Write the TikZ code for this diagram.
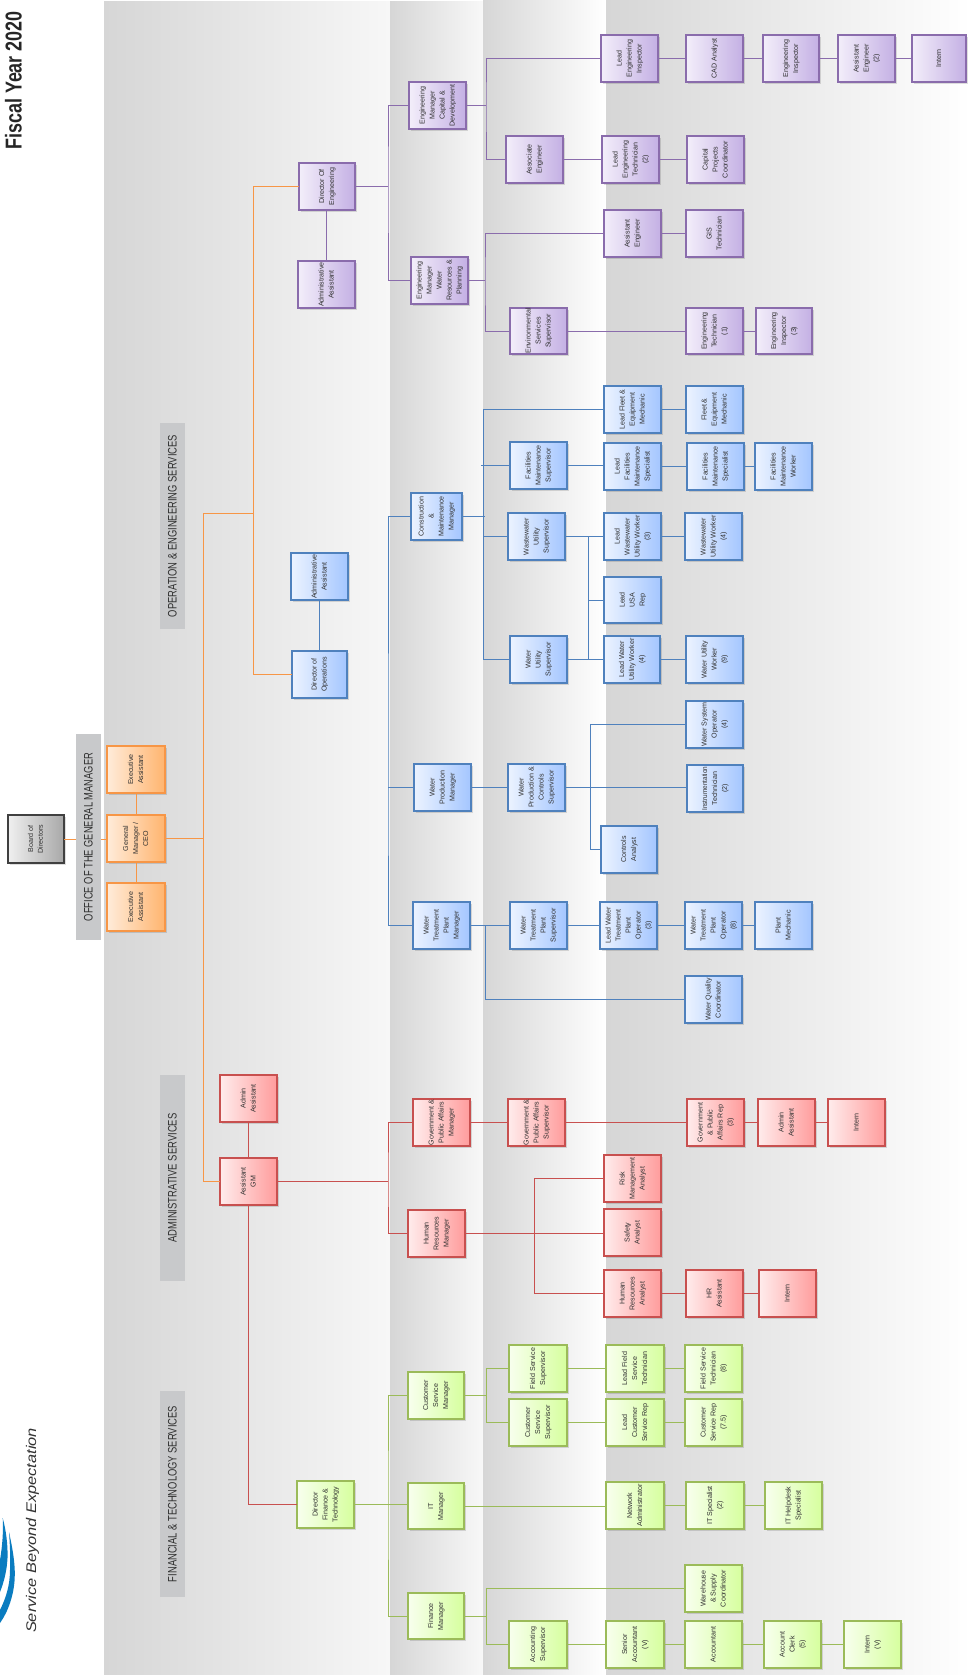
\documentclass[tikz,border=0pt]{standalone}
\usepackage{fontspec}
\setmainfont{Liberation Sans}
\usetikzlibrary{shadows,calc}
\definecolor{txt}{HTML}{303030}
\definecolor{pl}{HTML}{8A6CAC}
\definecolor{bl}{HTML}{4F81BD}
\definecolor{rd}{HTML}{C8504F}
\definecolor{gr}{HTML}{9BBB59}
\definecolor{og}{HTML}{F79646}
\definecolor{tagc}{HTML}{C8C9CB}
\definecolor{logoc}{HTML}{0A7CC0}
\tikzset{
 orgbox/.style={rectangle,inner sep=0pt,outer sep=0pt,line width=1.1pt,text=txt,
   font=\fontsize{7.1}{10}\selectfont,
   general shadow={shadow xshift=2.2pt,shadow yshift=-2.2pt,fill=black,opacity=.13},
   general shadow={shadow xshift=1.3pt,shadow yshift=-1.3pt,fill=black,opacity=.28}},
 pur/.style={draw=pl,left color={rgb,255:red,243;green,238;blue,250},right color={rgb,255:red,196;green,176;blue,228}},
 blu/.style={draw=bl,left color={rgb,255:red,236;green,243;blue,255},right color={rgb,255:red,164;green,198;blue,255}},
 red/.style={draw=rd,left color={rgb,255:red,255;green,236;blue,236},right color={rgb,255:red,255;green,156;blue,156}},
 grn/.style={draw=gr,left color={rgb,255:red,248;green,255;blue,238},right color={rgb,255:red,214;green,255;blue,158}},
 org/.style={draw=og,left color={rgb,255:red,255;green,236;blue,218},right color={rgb,255:red,255;green,180;blue,110}},
 gry/.style={draw=black!75,line width=1.2pt,left color={rgb,255:red,240;green,240;blue,240},right color={rgb,255:red,168;green,168;blue,168}},
 cpl/.style={draw=pl,line width=.9pt},
 cbl/.style={draw=bl,line width=.9pt},
 crd/.style={draw=rd,line width=.9pt},
 cgr/.style={draw=gr,line width=1pt},
 cog/.style={draw=og,line width=.9pt},
 grouptag/.style={fill=tagc,inner sep=0pt,text=txt},
}
\newcommand\orgnode[7]{%
 \pgfmathsetmacro\orgw{#5-#3}\pgfmathsetmacro\orgh{#6-#4}%
 \node[orgbox,#2,minimum width=\orgw pt,minimum height=\orgh pt] (#1) at ({(#3+#5)/2},{(#4+#6)/2})
   {\rotatebox{90}{\begin{tabular}{@{}c@{}}#7\end{tabular}}};}
\newcommand\lnk[3]{\draw[#1] (#2.east) -- (#2.east -| #3.west);}
\newcommand\grouplabel[5]{%
 \node[grouptag,minimum width=25pt,minimum height=206pt] (#1) at (#2,#3)
   {\rotatebox{90}{\resizebox{#4pt}{8.6pt}{#5}}};}
\begin{document}
\begin{tikzpicture}[x=1pt,y=-1pt]
\useasboundingbox (0,0) rectangle (971,1675);
% bands
\path[left color={rgb,255:red,214;green,214;blue,214},middle color={rgb,255:red,226;green,226;blue,226},right color={rgb,255:red,247;green,247;blue,247}] (104,2) rectangle (390,1675);
\path[left color={rgb,255:red,214;green,214;blue,214},middle color={rgb,255:red,226;green,226;blue,226},right color={rgb,255:red,248;green,248;blue,248}] (390,2) rectangle (483,1675);
\path[left color={rgb,255:red,214;green,214;blue,214},middle color={rgb,255:red,230;green,230;blue,230},right color=white] (483,0) rectangle (606,1675);
\path[left color={rgb,255:red,214;green,214;blue,214},right color=white] (606,0) rectangle (971,1675);
% title, tagline
\node[rotate=90,inner sep=0pt,text=black!85] (title) at (13.5,80.5) {\scalebox{.78}[1]{\bfseries\fontsize{23}{23}\selectfont Fiscal Year 2020}};
\node[rotate=90,inner sep=0pt,text=black!80] (tagline) at (32.5,1530.5) {\scalebox{1.17}[1]{\itshape\fontsize{14}{14}\selectfont Service Beyond Expectation}};
% logo
\fill[logoc] (9,1532) .. controls (12.5,1548) and (15.5,1565) .. (14.7,1578) .. controls (14,1595) and (8,1612) .. (0,1623) -- (0,1610) .. controls (6,1598) and (10,1585) .. (10,1570) .. controls (10.5,1558) and (10,1545) .. (9,1532);
\fill[logoc] (2.7,1518) .. controls (6,1530) and (8,1545) .. (7.5,1558) .. controls (7,1570) and (4,1582) .. (0,1592) -- (0,1560) .. controls (2.5,1545) and (3.5,1530) .. (2.7,1518);
% top
\orgnode{bod}{gry}{8}{815}{64}{863}{Board of\\Directors}
\orgnode{eaT}{org}{107}{746}{165}{793}{Executive\\Assistant}
\orgnode{gm}{org}{107}{815}{165}{862}{General\\Manager /\\CEO}
\orgnode{eaB}{org}{107}{883}{165}{931}{Executive\\Assistant}
% purple
\orgnode{dirE}{pur}{299}{163}{355}{210}{Director Of\\Engineering}
\orgnode{aaE}{pur}{298}{261}{355}{308}{Administrative\\Assistant}
\orgnode{emcd}{pur}{409}{82}{466}{129}{Engineering\\Manager\\Capital \&\\Development}
\orgnode{emwr}{pur}{411}{257}{468}{304}{Engineering\\Manager\\Water\\Resources \&\\Planning}
\orgnode{lei}{pur}{601}{35}{658}{82}{Lead\\Engineering\\Inspector}
\orgnode{cad}{pur}{686}{35}{743}{82}{CAD Analyst}
\orgnode{ei}{pur}{763}{35}{819}{82}{Engineering\\Inspector}
\orgnode{ae2}{pur}{838}{35}{895}{82}{Assistant\\Engineer\\(2)}
\orgnode{intE}{pur}{912}{35}{966}{82}{Intern}
\orgnode{assoc}{pur}{506}{136}{563}{183}{Associate\\Engineer}
\orgnode{let}{pur}{602}{136}{659}{183}{Lead\\Engineering\\Technician\\(2)}
\orgnode{cpc}{pur}{687}{136}{744}{183}{Capital\\Projects\\Coordinator}
\orgnode{ae}{pur}{604}{210}{661}{257}{Assistant\\Engineer}
\orgnode{gis}{pur}{686}{210}{743}{257}{GIS\\Technician}
\orgnode{ess}{pur}{510}{308}{567}{354}{Environmental\\Services\\Supervisor}
\orgnode{et}{pur}{686}{308}{743}{354}{Engineering\\Technician\\(1)}
\orgnode{ei3}{pur}{756}{308}{812}{354}{Engineering\\Inspector\\(3)}
% blue
\orgnode{dirO}{blu}{292}{651}{347}{698}{Director of\\Operations}
\orgnode{aaO}{blu}{291}{553}{348}{600}{Administrative\\Assistant}
\orgnode{cmm}{blu}{411}{493}{462}{540}{Construction\\\&\\Maintenance\\Manager}
\orgnode{lfe}{blu}{604}{386}{661}{433}{Lead Fleet \&\\Equipment\\Mechanic}
\orgnode{fe}{blu}{686}{386}{743}{433}{Fleet \&\\Equipment\\Mechanic}
\orgnode{fms}{blu}{510}{442}{567}{489}{Facilities\\Maintenance\\Supervisor}
\orgnode{lfm}{blu}{604}{443}{661}{490}{Lead\\Facilities\\Maintenance\\Specialist}
\orgnode{fm}{blu}{687}{443}{744}{490}{Facilities\\Maintenance\\Specialist}
\orgnode{fw}{blu}{755}{443}{812}{490}{Facilities\\Maintenance\\Worker}
\orgnode{wws}{blu}{508}{513}{565}{560}{Wastewater\\Utility\\Supervisor}
\orgnode{lww}{blu}{604}{513}{661}{560}{Lead\\Wastewater\\Utility Worker\\(3)}
\orgnode{ww}{blu}{685}{513}{742}{560}{Wastewater\\Utility Worker\\(4)}
\orgnode{usa}{blu}{604}{577}{661}{623}{Lead\\USA\\Rep}
\orgnode{wus}{blu}{510}{636}{567}{683}{Water\\Utility\\Supervisor}
\orgnode{lwu}{blu}{604}{636}{660}{683}{Lead Water\\Utility Worker\\(4)}
\orgnode{wu}{blu}{686}{636}{743}{683}{Water Utility\\Worker\\(9)}
\orgnode{wso}{blu}{686}{701}{743}{748}{Water System\\Operator\\(4)}
\orgnode{wpm}{blu}{414}{764}{471}{811}{Water\\Production\\Manager}
\orgnode{wpc}{blu}{508}{764}{565}{811}{Water\\Production \&\\Controls\\Supervisor}
\orgnode{itc}{blu}{687}{765}{743}{812}{\scalebox{.9}[1]{Instrumentation}\\Technician\\(2)}
\orgnode{ca}{blu}{601}{826}{657}{873}{Controls\\Analyst}
\orgnode{wtm}{blu}{413}{902}{470}{949}{Water\\Treatment\\Plant\\Manager}
\orgnode{wts}{blu}{510}{902}{567}{949}{Water\\Treatment\\Plant\\Supervisor}
\orgnode{lwo}{blu}{600}{902}{657}{949}{Lead Water\\Treatment\\Plant\\Operator\\(3)}
\orgnode{wto}{blu}{685}{902}{742}{949}{Water\\Treatment\\Plant\\Operator\\(8)}
\orgnode{pm}{blu}{755}{902}{812}{949}{Plant\\Mechanic}
\orgnode{wqc}{blu}{685}{976}{742}{1023}{Water Quality\\Coordinator}
% red
\orgnode{admR}{red}{220}{1075}{277}{1122}{Admin\\Assistant}
\orgnode{agm}{red}{220}{1158}{277}{1205}{Assistant\\GM}
\orgnode{gpm}{red}{413}{1099}{470}{1146}{Government \&\\Public Affairs\\Manager}
\orgnode{gps}{red}{508}{1099}{565}{1146}{Government \&\\Public Affairs\\Supervisor}
\orgnode{gpr}{red}{687}{1099}{744}{1146}{Government\\\& Public\\Affairs Rep\\(3)}
\orgnode{adm2}{red}{758}{1099}{815}{1146}{Admin\\Assistant}
\orgnode{intG}{red}{828}{1099}{885}{1146}{Intern}
\orgnode{rma}{red}{604}{1155}{661}{1202}{Risk\\Management\\Analyst}
\orgnode{saf}{red}{604}{1209}{661}{1256}{Safety\\Analyst}
\orgnode{hrm}{red}{408}{1210}{465}{1257}{Human\\Resources\\Manager}
\orgnode{hra}{red}{604}{1270}{661}{1317}{Human\\Resources\\Analyst}
\orgnode{hrs}{red}{686}{1270}{743}{1317}{HR\\Assistant}
\orgnode{intH}{red}{759}{1270}{816}{1317}{Intern}
% green
\orgnode{dirF}{grn}{297}{1481}{354}{1528}{Director\\Finance \&\\Technology}
\orgnode{csm}{grn}{408}{1372}{464}{1419}{Customer\\Service\\Manager}
\orgnode{itm}{grn}{408}{1483}{464}{1529}{IT\\Manager}
\orgnode{fin}{grn}{408}{1593}{464}{1639}{Finance\\Manager}
\orgnode{fss}{grn}{509}{1345}{567}{1392}{Field Service\\Supervisor}
\orgnode{lfs}{grn}{606}{1345}{664}{1392}{Lead Field\\Service\\Technician}
\orgnode{fst}{grn}{685}{1345}{742}{1392}{Field Service\\Technician\\(8)}
\orgnode{css}{grn}{509}{1399}{567}{1446}{Customer\\Service\\Supervisor}
\orgnode{lcs}{grn}{606}{1399}{664}{1446}{Lead\\Customer\\Service Rep}
\orgnode{csr}{grn}{685}{1399}{742}{1446}{Customer\\Service Rep\\(7.5)}
\orgnode{net}{grn}{606}{1482}{664}{1529}{Network\\Administrator}
\orgnode{its}{grn}{686}{1482}{744}{1529}{IT Specialist\\(2)}
\orgnode{ith}{grn}{765}{1482}{822}{1529}{IT Helpdesk\\Specialist}
\orgnode{war}{grn}{685}{1565}{742}{1612}{Warehouse\\\& Supply\\Coordinator}
\orgnode{acs}{grn}{509}{1621}{567}{1668}{Accounting\\Supervisor}
\orgnode{sra}{grn}{606}{1621}{664}{1668}{Senior\\Accountant\\(V)}
\orgnode{acc}{grn}{685}{1621}{742}{1668}{Accountant}
\orgnode{clk}{grn}{764}{1621}{821}{1668}{Account\\Clerk\\(5)}
\orgnode{intF}{grn}{844}{1621}{901}{1668}{Intern\\(V)}
% bus coordinates
\coordinate (bA) at (203,0);
\coordinate (bB) at (253,0);
\coordinate (bP) at (388,0);
\coordinate (bP1) at (486,0);
\coordinate (bP2) at (485,0);
\coordinate (bC) at (483.5,0);
\coordinate (bC1) at (481,0);
\coordinate (bW) at (588.7,0);
\coordinate (bX) at (590.5,0);
\coordinate (bT) at (485.5,0);
\coordinate (bH) at (534.5,0);
\coordinate (bS) at (486.7,0);
\coordinate (tB) at (0,513);
% orange
\draw[cog] (bod.east) -- (bod.east -| gm.west);
\draw[cog] (eaT.south) -- (gm.north);
\draw[cog] (gm.south) -- (eaB.north);
\draw[cog] (gm.east) -- (gm.east -| bA);
\draw[cog] (agm.west) -| (bA |- tB) -- (bB |- tB);
\draw[cog] (dirE.west) -| (bB |- dirO.west) -- (dirO.west);
% purple
\draw[cpl] (aaE.north) -- (aaE.north |- dirE.south);
\draw[cpl] (dirE.east) -- (dirE.east -| bP);
\draw[cpl] (emcd.west) -| (bP |- dirE.east) |- (emwr.west);
\draw[cpl] (emcd.east) -- (emcd.east -| bP1);
\draw[cpl] (lei.west) -| (bP1 |- emcd.east) |- (assoc.west);
\draw[cpl] (emwr.east) -- (emwr.east -| bP2);
\draw[cpl] (ae.west) -| (bP2 |- emwr.east) |- (ess.west);
\lnk{cpl}{lei}{cad}\lnk{cpl}{cad}{ei}\lnk{cpl}{ei}{ae2}\lnk{cpl}{ae2}{intE}
\lnk{cpl}{assoc}{let}\lnk{cpl}{let}{cpc}
\lnk{cpl}{ae}{gis}
\lnk{cpl}{ess}{et}\lnk{cpl}{et}{ei3}
% blue
\draw[cbl] (aaO.south) -- (aaO.south |- dirO.north);
\draw[cbl] (cmm.west) -| (bP |- wpm.west) |- (wtm.west);
\draw[cbl] (wpm.west) -- (wpm.west -| bP);
\draw[cbl] (cmm.east) -- (cmm.east -| bP2);
\draw[cbl] (lfe.west) -| (bC |- cmm.east) |- (wus.west);
\draw[cbl] (fms.west) -- (fms.west -| bC1);
\draw[cbl] (wws.west) -- (wws.west -| bC);
\lnk{cbl}{lfe}{fe}
\lnk{cbl}{fms}{lfm}\lnk{cbl}{lfm}{fm}\lnk{cbl}{fm}{fw}
\lnk{cbl}{wws}{lww}\lnk{cbl}{lww}{ww}
\draw[cbl] (lww.west -| bW) |- (lwu.west);
\draw[cbl] (usa.west) -- (usa.west -| bW);
\lnk{cbl}{wus}{lwu}\lnk{cbl}{lwu}{wu}
\lnk{cbl}{wpm}{wpc}\lnk{cbl}{wpc}{itc}
\draw[cbl] (wso.west) -| (bX |- wpc.east) |- (ca.west);
\lnk{cbl}{wtm}{wts}\lnk{cbl}{wts}{lwo}\lnk{cbl}{lwo}{wto}\lnk{cbl}{wto}{pm}
\draw[cbl] (wtm.east -| bT) |- (wqc.west);
% red
\draw[crd] (admR.south) -- (agm.north);
\draw[crd] (agm.south) |- (dirF.west);
\draw[crd] (agm.east) -- (agm.east -| bP);
\draw[crd] (gpm.west) -| (bP |- agm.east) |- (hrm.west);
\lnk{crd}{gpm}{gps}\lnk{crd}{gps}{gpr}\lnk{crd}{gpr}{adm2}\lnk{crd}{adm2}{intG}
\lnk{crd}{hrm}{saf}
\draw[crd] (rma.west) -| (bH |- hrm.east) |- (hra.west);
\lnk{crd}{hra}{hrs}\lnk{crd}{hrs}{intH}
% green
\lnk{cgr}{dirF}{itm}
\draw[cgr] (csm.west) -| (bP |- dirF.east) |- (fin.west);
\draw[cgr] (csm.east) -- (csm.east -| bS);
\draw[cgr] (fss.west) -| (bS |- csm.east) |- (css.west);
\lnk{cgr}{fss}{lfs}\lnk{cgr}{lfs}{fst}
\lnk{cgr}{css}{lcs}\lnk{cgr}{lcs}{csr}
\lnk{cgr}{itm}{net}\lnk{cgr}{net}{its}\lnk{cgr}{its}{ith}
\draw[cgr] (fin.east) -- (fin.east -| bS);
\draw[cgr] (war.west) -| (bS |- fin.east) |- (acs.west);
\lnk{cgr}{acs}{sra}\lnk{cgr}{sra}{acc}\lnk{cgr}{acc}{clk}\lnk{cgr}{clk}{intF}
% group labels
\grouplabel{gOffice}{88.5}{837}{168}{OFFICE OF THE GENERAL MANAGER}
\grouplabel{gOps}{172.5}{526}{182}{OPERATION \& ENGINEERING SERVICES}
\grouplabel{gAdm}{172.5}{1178}{129}{ADMINISTRATIVE SERVICES}
\grouplabel{gFin}{172.5}{1494}{176}{FINANCIAL \& TECHNOLOGY SERVICES}
\end{tikzpicture}
\end{document}
